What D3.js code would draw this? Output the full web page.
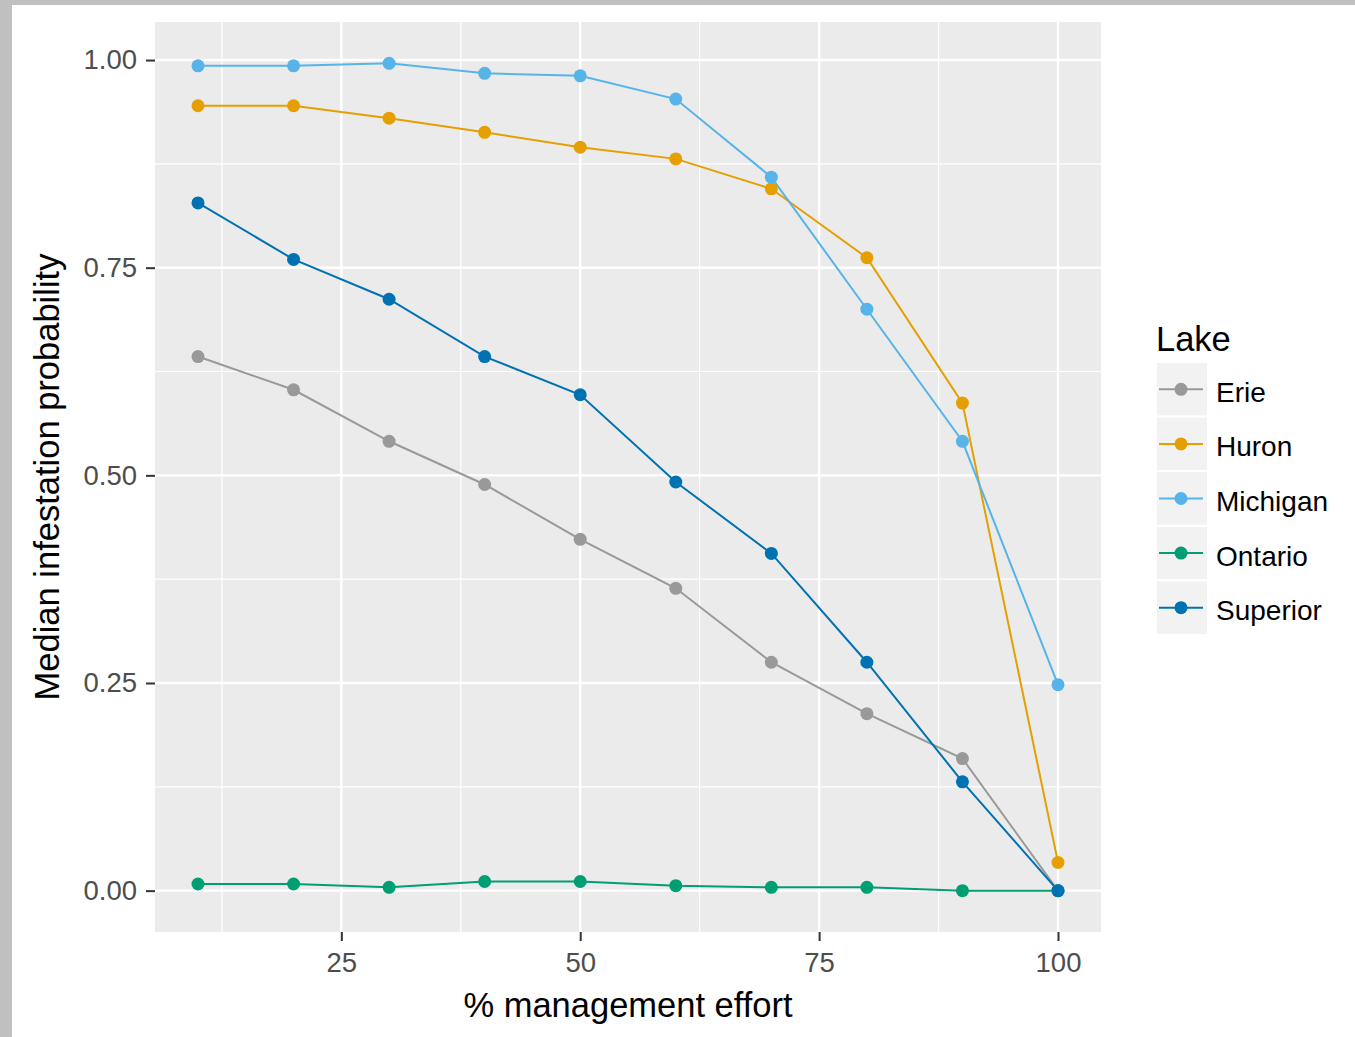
<!DOCTYPE html>
<html>
<head>
<meta charset="utf-8">
<script src="https://cdn.jsdelivr.net/npm/d3@7"></script>
<style>
  html, body { margin: 0; padding: 0; background: #fff; }
  svg { display: block; font-family: "Liberation Sans", Arial, sans-serif; }
</style>
</head>
<body>
<div id="chart"></div>
<script>
// ---------- data ----------
const effort = [10, 20, 30, 40, 50, 60, 70, 80, 90, 100]
const lakes = ['Erie', 'Huron', 'Michigan', 'Ontario', 'Superior']
const colours = ['#999999', '#E69F00', '#56B4E9', '#009E73', '#0072B2']

const erie     = [0.643, 0.603, 0.541, 0.489, 0.423, 0.364, 0.275, 0.213, 0.159, 0.000]
const huron    = [0.945, 0.945, 0.930, 0.913, 0.895, 0.881, 0.845, 0.762, 0.587, 0.034]
const michigan = [0.993, 0.993, 0.996, 0.984, 0.981, 0.953, 0.859, 0.700, 0.541, 0.248]
const ontario  = [0.008, 0.008, 0.004, 0.011, 0.011, 0.006, 0.004, 0.004, 0.000, 0.000]
const superior = [0.828, 0.760, 0.712, 0.643, 0.597, 0.492, 0.406, 0.275, 0.131, 0.000]

const xTicks = [25, 50, 75, 100]
const xMinor = [12.5, 37.5, 62.5, 87.5]
const yTicks = [0, 0.25, 0.5, 0.75, 1]
const yMinor = [0.125, 0.375, 0.625, 0.875]

const series = [erie, huron, michigan, ontario, superior].map((vals, i) => ({
  lake: lakes[i],
  colour: colours[i],
  points: vals.map((v, j) => ({ x: effort[j], y: v }))
}))

// ---------- layout ----------
const width = 1355, height = 1037
const panel = { left: 155, right: 1101, top: 22, bottom: 932 }

const svg = d3.select('#chart').append('svg')
  .attr('width', width)
  .attr('height', height)

// screenshot frame
svg.append('rect').attr('x', 0).attr('y', 0).attr('width', width).attr('height', height).attr('fill', '#fff')
svg.append('rect').attr('x', 0).attr('y', 0).attr('width', 12).attr('height', height).attr('fill', '#c0c0c0')
svg.append('rect').attr('x', 0).attr('y', 0).attr('width', width).attr('height', 5).attr('fill', '#c0c0c0')

// ggplot style 5% expansion
const xExt = d3.extent(effort)
const xPad = (xExt[1] - xExt[0]) * 0.05
const x = d3.scaleLinear()
  .domain([xExt[0] - xPad, xExt[1] + xPad])
  .range([panel.left, panel.right])

const yMax = d3.max(series, s => d3.max(s.points, p => p.y))
const yPad = yMax * 0.05
const y = d3.scaleLinear()
  .domain([0 - yPad, yMax + yPad])
  .range([panel.bottom, panel.top])

// panel background
svg.append('rect')
  .attr('x', panel.left).attr('y', panel.top)
  .attr('width', panel.right - panel.left).attr('height', panel.bottom - panel.top)
  .attr('fill', '#ebebeb')

const grid = svg.append('g')
grid.selectAll('.minor-x').data(xMinor).enter().append('line')
  .attr('x1', d => x(d)).attr('x2', d => x(d))
  .attr('y1', panel.top).attr('y2', panel.bottom)
  .attr('stroke', '#fff').attr('stroke-width', 1.2)
grid.selectAll('.minor-y').data(yMinor).enter().append('line')
  .attr('y1', d => y(d)).attr('y2', d => y(d))
  .attr('x1', panel.left).attr('x2', panel.right)
  .attr('stroke', '#fff').attr('stroke-width', 1.2)
grid.selectAll('.major-x').data(xTicks).enter().append('line')
  .attr('x1', d => x(d)).attr('x2', d => x(d))
  .attr('y1', panel.top).attr('y2', panel.bottom)
  .attr('stroke', '#fff').attr('stroke-width', 2.4)
grid.selectAll('.major-y').data(yTicks).enter().append('line')
  .attr('y1', d => y(d)).attr('y2', d => y(d))
  .attr('x1', panel.left).attr('x2', panel.right)
  .attr('stroke', '#fff').attr('stroke-width', 2.4)

// ---------- axes ----------
const xAxis = svg.append('g')
  .attr('transform', `translate(0,${panel.bottom})`)
  .call(d3.axisBottom(x).tickValues(xTicks).tickSize(9).tickPadding(6).tickFormat(d3.format('d')))
const yAxis = svg.append('g')
  .attr('transform', `translate(${panel.left},0)`)
  .call(d3.axisLeft(y).tickValues(yTicks).tickSize(9).tickPadding(9).tickFormat(d3.format('.2f')))

;[xAxis, yAxis].forEach(a => {
  a.select('.domain').remove()
  a.selectAll('.tick line').attr('stroke', '#333').attr('stroke-width', 2)
  a.selectAll('.tick text').attr('fill', '#4d4d4d').attr('font-size', 27.5)
    .attr('font-family', '"Liberation Sans", Arial, sans-serif')
})
xAxis.selectAll('.tick text').attr('dy', '0.9em')

svg.append('text')
  .attr('x', (panel.left + panel.right) / 2)
  .attr('y', 1017)
  .attr('text-anchor', 'middle')
  .attr('font-size', 34.5)
  .attr('fill', '#000')
  .text('% management effort')

svg.append('text')
  .attr('transform', `translate(59,${(panel.top + panel.bottom) / 2}) rotate(-90)`)
  .attr('text-anchor', 'middle')
  .attr('font-size', 34.5)
  .attr('fill', '#000')
  .text('Median infestation probability')

// ---------- lines & points ----------
const line = d3.line().x(d => x(d.x)).y(d => y(d.y))

svg.append('g').selectAll('path').data(series).enter().append('path')
  .attr('d', d => line(d.points))
  .attr('fill', 'none')
  .attr('stroke', d => d.colour)
  .attr('stroke-width', 2)

const pts = svg.append('g')
series.forEach(s => {
  pts.selectAll(null).data(s.points).enter().append('circle')
    .attr('cx', d => x(d.x))
    .attr('cy', d => y(d.y))
    .attr('r', 6.5)
    .attr('fill', s.colour)
})

// ---------- legend ----------
const legend = svg.append('g').attr('transform', 'translate(1156,0)')
legend.append('text')
  .attr('x', 0).attr('y', 351)
  .attr('font-size', 34.5)
  .attr('fill', '#000')
  .text('Lake')

const keyH = 54.6
const keyTop = 362
const keys = legend.selectAll('.key').data(series).enter().append('g')
  .attr('transform', (d, i) => `translate(0,${keyTop + i * keyH})`)
keys.append('rect')
  .attr('x', 0).attr('y', 0).attr('width', 52).attr('height', keyH)
  .attr('fill', '#f2f2f2').attr('stroke', '#fff').attr('stroke-width', 2)
keys.append('line')
  .attr('x1', 3).attr('x2', 47).attr('y1', keyH / 2).attr('y2', keyH / 2)
  .attr('stroke', d => d.colour).attr('stroke-width', 2)
keys.append('circle')
  .attr('cx', 25).attr('cy', keyH / 2).attr('r', 6.5)
  .attr('fill', d => d.colour)
keys.append('text')
  .attr('x', 60).attr('y', keyH / 2 + 2.5)
  .attr('dy', '0.36em')
  .attr('font-size', 28)
  .attr('fill', '#000')
  .text(d => d.lake)
</script>
</body>
</html>
